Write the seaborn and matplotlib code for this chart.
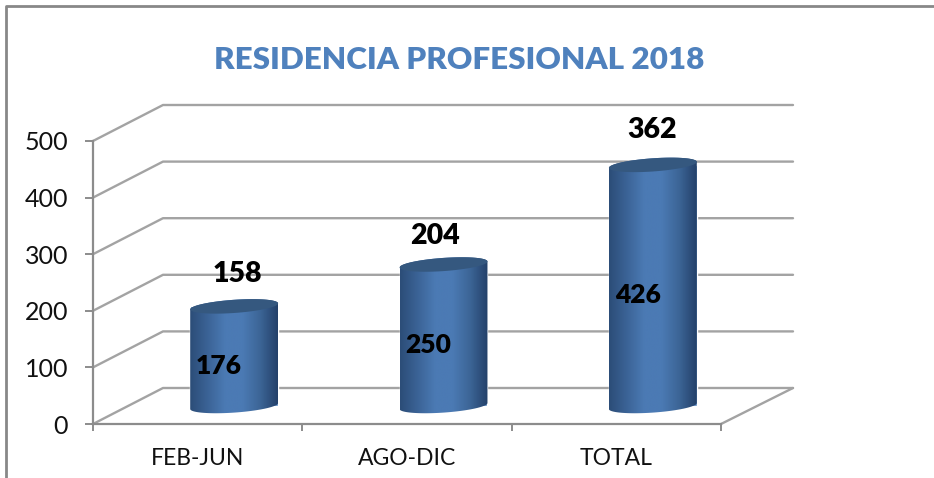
import numpy as np
import pandas as pd
import matplotlib
matplotlib.use("Agg")
import matplotlib.pyplot as plt
from matplotlib.colors import LinearSegmentedColormap
from matplotlib.lines import Line2D
from matplotlib.patches import Polygon
from matplotlib.path import Path
from matplotlib.transforms import IdentityTransform
import seaborn as sns

# values
periods = ["FEB-JUN", "AGO-DIC", "TOTAL"]
bar_values = [176, 250, 426]
outer_labels = ["158", "204", "362"]
y_ticks = [0, 100, 200, 300, 400, 500]

# outer label nudges in pixels, from the top of each bar
outer_dx = [3, -8, -1]
outer_dy = [32, 29, 35]

W, H = 934, 478
GRID = "#a3a3a3"
AXIS = "#8c8c8c"
BLUE = "#4f81bd"
FONT = ["Lato", "DejaVu Sans"]

sns.set_style("white")
plt.rcParams["font.family"] = FONT

fig = plt.figure(figsize=(W / 100, H / 100), dpi=100, facecolor="white")


def box(left, top, right, bottom):
    return [left / W, 1 - bottom / H, (right - left) / W, (bottom - top) / H]


# front plane carries the axis, bars stand half way into the depth
ax = fig.add_axes(box(93, 141, 721, 424), zorder=1)
ax_bar = fig.add_axes(box(129.5, 123, 757.5, 406), zorder=2)
ax_bar.patch.set_alpha(0)

df = pd.DataFrame({"period": periods, "value": bar_values})
sns.barplot(data=df, x="period", y="value", width=0.42, color=BLUE, saturation=1, ax=ax_bar)
ax_bar.set_xlim(-0.5, 2.5)
ax_bar.set_ylim(0, 500)
ax_bar.axis("off")

ax.set_xlim(-0.5, 2.5)
ax.set_ylim(0, 500)
ax.patch.set_alpha(0)
for s in ["top", "right"]:
    ax.spines[s].set_visible(False)
for s in ["left", "bottom"]:
    ax.spines[s].set_color(AXIS)
    ax.spines[s].set_linewidth(1.6)
ax.set_yticks(y_ticks)
ax.set_yticklabels([str(t) for t in y_ticks], fontsize=18, color="#111111")
ax.tick_params(axis="y", length=6, width=1.4, color=AXIS, left=True, pad=12)
ax.set_xticks([-0.5, 0.5, 1.5, 2.5])
ax.set_xticklabels([])
ax.tick_params(axis="x", which="major", length=5, width=1.4, color=AXIS, bottom=True)
ax.set_xticks([0, 1, 2], minor=True)
ax.set_xticklabels(periods, minor=True, fontsize=16.5, color="#111111")
ax.tick_params(axis="x", which="minor", length=0, pad=17)

# side and back wall gridlines
for t in y_ticks:
    px, py = ax.transData.transform((-0.5, t))
    fig.add_artist(Line2D([px, px + 70, px + 700], [py, py + 36, py + 36], color=GRID, lw=1.7,
                          transform=IdentityTransform(), zorder=0.5))
px, py = ax.transData.transform((2.5, 0))
fig.add_artist(Line2D([px, px + 72], [py, py + 36], color=GRID, lw=1.7,
                      transform=IdentityTransform(), zorder=0.5))

# cylinders: gradient clipped to the bar outline, with a tilted cap
shade = LinearSegmentedColormap.from_list("cyl", ["#2c4d78", "#3b6396", "#4b7ab4", "#4b7ab4", "#3c6596", "#24416a"])
ramp = np.linspace(0, 1, 200).reshape(1, -1)
tilt, flat = 3.0, 6.6


def arc(cx, cy, half, t0, t1):
    t = np.linspace(t0, t1, 60)
    return np.column_stack([cx + half * np.cos(t), cy + tilt * np.cos(t) + flat * np.sin(t)])


for i, bar in enumerate(ax_bar.patches):
    x0, x1 = bar.get_x(), bar.get_x() + bar.get_width()
    val = bar.get_height()
    (l, base), (r, top) = ax_bar.transData.transform([(x0, 0), (x1, val)])
    cx, half = (l + r) / 2, (r - l) / 2
    outline = np.vstack([arc(cx, base, half, np.pi, 2 * np.pi), arc(cx, top, half, 0, np.pi)])
    im = ax_bar.imshow(ramp, cmap=shade, aspect="auto", extent=[x0, x1, -30, val + 30], zorder=3)
    im.set_clip_box(fig.bbox)
    im.set_clip_path(Path(np.vstack([outline, outline[:1]]), closed=True), transform=IdentityTransform())
    cap = Polygon(arc(cx, top, half, 0, 2 * np.pi), closed=True, facecolor="#35587f", edgecolor="none",
                  transform=IdentityTransform(), zorder=4)
    cap.set_clip_on(False)
    ax_bar.add_patch(cap)

    # labels are placed in pixels
    mid = (base + top) / 2
    ax_bar.text(cx - 15, mid - 10, str(bar_values[i]), transform=IdentityTransform(), ha="center", va="center",
                fontsize=19, fontweight="heavy", color="black", zorder=5)
    ax_bar.text(cx + outer_dx[i], top + outer_dy[i], outer_labels[i], transform=IdentityTransform(), ha="center",
                va="center", fontsize=20.5, fontweight="heavy", color="black", zorder=5)

ax_bar.set_xlim(-0.5, 2.5)
ax_bar.set_ylim(0, 500)

fig.text(459 / W, 1 - 60 / H, "RESIDENCIA PROFESIONAL 2018", ha="center", va="center",
         fontsize=22.6, fontweight="heavy", color=BLUE)

# chart frame, only the top and left edges are in the crop
fig.add_artist(Line2D([6 / W, 6 / W, 1], [0, 1 - 6 / H, 1 - 6 / H], color="#888888", lw=2,
                      transform=fig.transFigure, zorder=0.5))

fig.savefig("out.png", dpi=100, facecolor="white")
